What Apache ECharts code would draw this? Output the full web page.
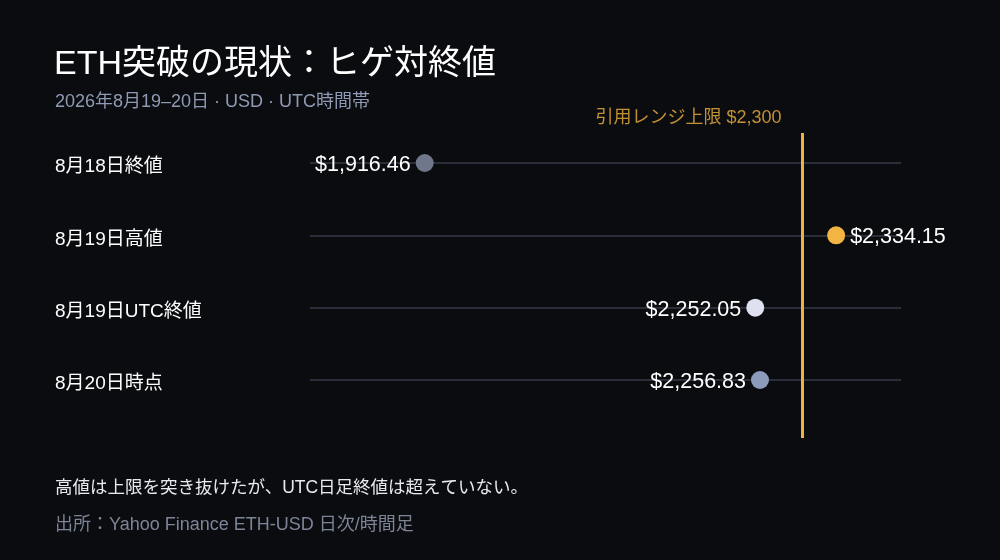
<!DOCTYPE html>
<html>
<head>
<meta charset="utf-8">
<script src="https://cdn.jsdelivr.net/npm/echarts@6/dist/echarts.min.js"></script>
<style>
html,body{margin:0;padding:0;background:#0b0c10;}
#c{width:1000px;height:560px;}
</style>
</head>
<body>
<div id="c"></div>
<script>
const categories = ['8月18日終値', '8月19日高値', '8月19日UTC終値', '8月20日時点'];
const values = [1916.46, 2334.15, 2252.05, 2256.83];
const rangeLimit = 2300;
const limitLabel = '引用レンジ上限 $2,300';
const xMin = 1800, xMax = 2400;

const dotColors = ['#6f778b', '#f2b544', '#dde1f0', '#8d9bbb'];
const FONT = '"Liberation Sans", Arial, "Noto Sans CJK JP", sans-serif';

function fmt(v){ return '$' + v.toLocaleString('en-US', {minimumFractionDigits:2, maximumFractionDigits:2}); }

const chart = echarts.init(document.getElementById('c'), null, {renderer:'canvas'});
chart.setOption({
  backgroundColor: '#0b0c10',
  animation: false,
  textStyle: { fontFamily: FONT },
  title: [
    { text: 'ETH突破の現状：ヒゲ対終値', left: 54, top: 48, padding: 0,
      textStyle: { color: '#ffffff', fontSize: 34, fontWeight: 'normal', fontFamily: FONT } },
    { text: '2026年8月19–20日 · USD · UTC時間帯', left: 55, top: 93, padding: 0,
      textStyle: { color: '#8f9ab3', fontSize: 18, fontWeight: 'normal', fontFamily: FONT } },
    { text: '高値は上限を突き抜けたが、UTC日足終値は超えていない。', left: 55, top: 479, padding: 0,
      textStyle: { color: '#e8eaf0', fontSize: 17.5, fontWeight: 'normal', fontFamily: FONT } },
    { text: '出所：Yahoo Finance ETH-USD 日次/時間足', left: 55, top: 516, padding: 0,
      textStyle: { color: '#7c8496', fontSize: 18, fontWeight: 'normal', fontFamily: FONT } }
  ],
  grid: [
    { left: 310, width: 591, top: 163, height: 217, containLabel: false },
    { left: 310, width: 591, top: 133, height: 305, containLabel: false }
  ],
  xAxis: [
    { type: 'value', gridIndex: 0, min: xMin, max: xMax, show: false },
    { type: 'value', gridIndex: 1, min: xMin, max: xMax, show: false }
  ],
  yAxis: [
    { type: 'category', gridIndex: 0, data: categories, inverse: true, boundaryGap: false,
      axisLine: { show: false }, axisTick: { show: false },
      splitLine: { show: true, lineStyle: { color: '#2b2e38', width: 2 } },
      axisLabel: { align: 'left', margin: 255, color: '#ffffff', fontSize: 19, fontFamily: FONT,
        verticalAlign: 'top', lineHeight: 8 } },
    { type: 'value', gridIndex: 1, min: 0, max: 1, show: false }
  ],
  series: [
    {
      type: 'line', xAxisIndex: 1, yAxisIndex: 1, data: [], silent: true,
      markLine: {
        symbol: 'none', silent: true,
        lineStyle: { color: '#f0b23f', width: 3, type: 'solid' },
        label: { show: false },
        data: [{ xAxis: rangeLimit }]
      }
    },
    {
      type: 'scatter', xAxisIndex: 1, yAxisIndex: 1, symbolSize: 0, silent: true,
      data: [[rangeLimit, 1]],
      label: { show: true, position: 'left', distance: 21, offset: [0, -15],
        formatter: limitLabel, color: '#f0b23f', fontSize: 18, fontFamily: FONT }
    },
    {
      type: 'scatter', xAxisIndex: 0, yAxisIndex: 0, symbolSize: 18, z: 5,
      itemStyle: { opacity: 1 },
      data: values.map((v, i) => ({
        value: [v, i],
        itemStyle: { color: dotColors[i], opacity: 1 },
        label: { position: v > rangeLimit ? 'right' : 'left' }
      })),
      label: { show: true, distance: 5, offset: [0, 2], color: '#ffffff', fontSize: 21.5, fontFamily: FONT,
        formatter: p => fmt(p.value[0]) }
    }
  ]
});
</script>
</body>
</html>
